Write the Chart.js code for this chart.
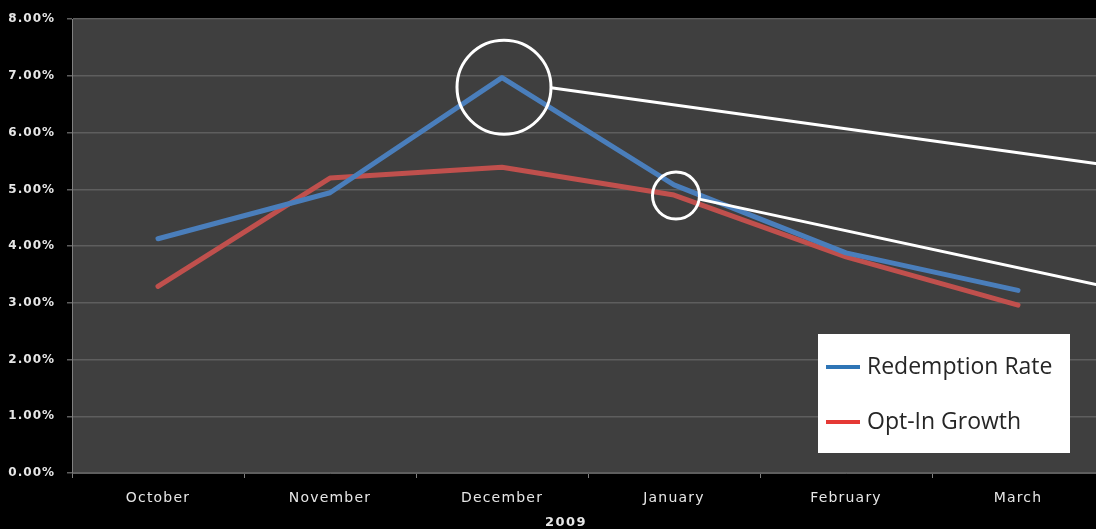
<!DOCTYPE html>
<html>
<head>
<meta charset="utf-8">
<script src="https://cdn.jsdelivr.net/npm/chart.js@4"></script>
<style>
html,body{margin:0;padding:0;background:#000;overflow:hidden;}
#wrap{position:relative;width:1110px;height:529px;}
</style>
</head>
<body>
<div id="wrap"><canvas id="c" width="1110" height="529"></canvas></div>
<script>
const months = ['October','November','December','January','February','March'];
const redemptionRate = [4.13, 4.94, 6.97, 5.08, 3.88, 3.22];
const optInGrowth = [3.29, 5.20, 5.39, 4.90, 3.81, 2.96];
const seriesNames = ['Redemption Rate','Opt-In Growth'];
const xAxisTitle = '2009';
// callout circles anchored to data: category, value (%), line end value at right edge
const calloutCategories = ['December','January'];
const calloutValues = [6.80, 4.89];
const calloutEndValues = [5.42, 3.27];

function withSpacing(scale, spacing){
  if (scale._spacingWrapped) return;
  scale._spacingWrapped = true;
  const orig = scale.drawLabels;
  scale.drawLabels = function(area){
    const ctx = this.ctx;
    const prev = ctx.letterSpacing;
    ctx.letterSpacing = spacing;
    orig.call(this, area);
    ctx.letterSpacing = prev || '0px';
  };
}

const plotBg = {
  id:'plotBg',
  beforeDraw(chart){
    const {ctx, chartArea:a} = chart;
    ctx.save();
    ctx.fillStyle = '#3f3f3f';
    ctx.fillRect(a.left, a.top, a.right - a.left, a.bottom - a.top);
    ctx.restore();
  }
};

const axisTitle = {
  id:'axisTitle',
  afterDraw(chart){
    const {ctx} = chart;
    const xs = chart.scales.x;
    ctx.save();
    ctx.letterSpacing = '1.5px';
    ctx.fillStyle = '#e6e6e6';
    ctx.font = 'bold 13px "DejaVu Sans", Verdana, sans-serif';
    ctx.textAlign = 'center';
    ctx.textBaseline = 'middle';
    ctx.fillText(xAxisTitle, (xs.left + xs.right) / 2 - 22, xs.bottom - 6);
    ctx.restore();
  }
};

const callouts = {
  id:'callouts',
  afterDatasetsDraw(chart){
    const {ctx} = chart;
    const xs = chart.scales.x, ys = chart.scales.y;
    const radii = [47, 23.5];
    const startAngles = [0.01, 0.15];
    ctx.save();
    ctx.strokeStyle = '#ffffff';
    ctx.lineWidth = 3;
    calloutCategories.forEach((cat, i) => {
      const cx = xs.getPixelForValue(months.indexOf(cat)) + 2;
      const cy = ys.getPixelForValue(calloutValues[i]);
      const r = radii[i];
      ctx.beginPath();
      ctx.arc(cx, cy, r, 0, Math.PI * 2);
      ctx.stroke();
      const ex = chart.width;
      const ey = ys.getPixelForValue(calloutEndValues[i]);
      ctx.beginPath();
      ctx.moveTo(cx + r * Math.cos(startAngles[i]), cy + r * Math.sin(startAngles[i]));
      ctx.lineTo(ex, ey);
      ctx.stroke();
    });
    ctx.restore();
  }
};

const legendBox = {
  id:'legendBox',
  afterDraw(chart){
    const {ctx} = chart;
    const colors = ['#2e75b6', '#e53935'];
    ctx.save();
    ctx.letterSpacing = '0px';
    ctx.fillStyle = '#ffffff';
    ctx.fillRect(818, 334, 252, 119);
    chart.data.datasets.forEach((ds, i) => {
      const y = 367 + i * 55;
      ctx.strokeStyle = colors[i];
      ctx.lineWidth = 4;
      ctx.beginPath();
      ctx.moveTo(826, y);
      ctx.lineTo(860, y);
      ctx.stroke();
      ctx.fillStyle = '#262626';
      ctx.font = '23px "Open Sans", "Noto Sans", sans-serif';
      ctx.textBaseline = 'middle';
      ctx.fillText(ds.label, 867, y);
    });
    ctx.restore();
  }
};

new Chart(document.getElementById('c'), {
  type:'line',
  data:{
    labels: months,
    datasets:[
      {label: seriesNames[0], data: redemptionRate, borderColor:'#4a7ebb', backgroundColor:'#4a7ebb'},
      {label: seriesNames[1], data: optInGrowth, borderColor:'#c0504d', backgroundColor:'#c0504d'}
    ]
  },
  options:{
    responsive:false,
    animation:false,
    layout:{padding:{top:16, right:6, left:0, bottom:0}},
    elements:{
      line:{borderWidth:5, tension:0, borderCapStyle:'round', borderJoinStyle:'round'},
      point:{radius:0, hoverRadius:0}
    },
    plugins:{legend:{display:false}, tooltip:{enabled:false}},
    scales:{
      x:{
        offset:true,
        grid:{display:true, drawOnChartArea:false, drawTicks:true, tickLength:5, offset:true, color:'#808080'},
        border:{display:true, color:'#5e5e5e'},
        ticks:{color:'#e6e6e6', padding:12, maxRotation:0, font:{family:'"DejaVu Sans", Verdana, sans-serif', size:14}},
        title:{display:false},
        afterFit(s){ s.height = 56; withSpacing(s, '1.2px'); }
      },
      y:{
        min:0, max:8,
        ticks:{stepSize:1, color:'#e6e6e6', padding:12,
          callback:v => v.toFixed(2) + '%',
          font:{family:'"DejaVu Sans", Verdana, sans-serif', size:12, weight:'bold'}},
        grid:{color:'#5e5e5e', tickLength:5, lineWidth:1.5},
        border:{display:true, color:'#808080'},
        afterFit(s){ s.width = 72; withSpacing(s, '1px'); }
      }
    }
  },
  plugins:[plotBg, callouts, legendBox, axisTitle]
});
</script>
</body>
</html>
